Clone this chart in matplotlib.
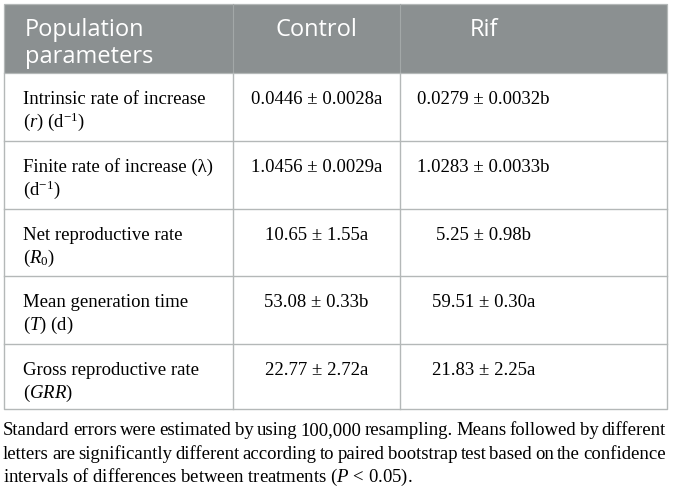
import matplotlib
matplotlib.use("Agg")
import matplotlib.pyplot as plt
from matplotlib.patches import Rectangle

plt.rcParams['mathtext.fontset'] = 'custom'
plt.rcParams['mathtext.rm'] = 'Liberation Serif'
plt.rcParams['mathtext.it'] = 'Liberation Serif:italic'

# table data
headers = ["Population\nparameters", "Control", "Rif"]
param_line1 = ["Intrinsic rate of increase", "Finite rate of increase (λ)",
               "Net reproductive rate", "Mean generation time",
               "Gross reproductive rate"]
param_line2 = ["($r$) (d$^{-1}$)", "(d$^{-1}$)", "($R_0$)", "($T$) (d)", "($GRR$)"]
decimals = [4, 4, 2, 2, 2]
control_mean = [0.0446, 1.0456, 10.65, 53.08, 22.77]
control_se = [0.0028, 0.0029, 1.55, 0.33, 2.72]
control_letter = ["a", "a", "a", "b", "a"]
rif_mean = [0.0279, 1.0283, 5.25, 59.51, 21.83]
rif_se = [0.0032, 0.0033, 0.98, 0.30, 2.25]
rif_letter = ["b", "b", "b", "a", "a"]
footnote = ["Standard errors were estimated by using 100,000 resampling. Means followed by different",
            "letters are significantly different according to paired bootstrap test based on the confidence",
            "intervals of differences between treatments ($P$ < 0.05)."]

W, H = 673, 492
fig = plt.figure(figsize=(W/100, H/100), dpi=100)
ax = fig.add_axes([0, 0, 1, 1])
ax.set_xlim(0, W)
ax.set_ylim(H, 0)
ax.axis('off')

# layout (pixels)
col_x = [4, 233, 400, 667]
row_y = [4, 73, 141, 209, 276, 344, 409]
header_bg = '#8b9091'
line_c = '#b4b8b8'
serif = 'Liberation Serif'
body_fs = 13.5

# header
ax.add_patch(Rectangle((col_x[0], row_y[0]), col_x[-1]-col_x[0], row_y[1]-row_y[0],
                       facecolor=header_bg, edgecolor=line_c, lw=0.9))
for x in col_x[1:-1]:
    ax.plot([x, x], [row_y[0], row_y[1]], color='#a3a8a8', lw=0.8)
ctrl_w = col_x[2] - col_x[1]
ax.text(25, 36, "Population", color='white', family='Open Sans', fontsize=17, va='baseline')
ax.text(25, 63, "parameters", color='white', family='Open Sans', fontsize=17, va='baseline')
ax.text(col_x[1] + ctrl_w/2, 36, headers[1], color='white', family='Open Sans',
        fontsize=17, va='baseline', ha='center')
ax.text(col_x[2] + ctrl_w/2, 36, headers[2], color='white', family='Open Sans',
        fontsize=17, va='baseline', ha='center')

# body grid
ax.plot([col_x[0], col_x[0], col_x[-1], col_x[-1]],
        [row_y[1], row_y[-1], row_y[-1], row_y[1]], color=line_c, lw=1.0)
for y in row_y[2:-1]:
    ax.plot([col_x[0], col_x[-1]], [y, y], color=line_c, lw=1.0)
for x in col_x[1:-1]:
    ax.plot([x, x], [row_y[1], row_y[-1]], color=line_c, lw=1.0)

# body text
for i in range(len(param_line1)):
    top = row_y[i+1]
    ax.text(23, top+31, param_line1[i], family=serif, fontsize=body_fs, va='baseline')
    ax.text(23, top+54, param_line2[i], family=serif, fontsize=body_fs, va='baseline')
    d = decimals[i]
    c = f"{control_mean[i]:.{d}f} ± {control_se[i]:.{d}f}{control_letter[i]}"
    r = f"{rif_mean[i]:.{d}f} ± {rif_se[i]:.{d}f}{rif_letter[i]}"
    ax.text(col_x[1] + ctrl_w/2, top+31, c, family=serif, fontsize=body_fs,
            va='baseline', ha='center')
    ax.text(col_x[2] + ctrl_w/2, top+31, r, family=serif, fontsize=body_fs,
            va='baseline', ha='center')

# footnote, first two lines justified
renderer = fig.canvas.get_renderer()


def justify(line, y, x0, x1):
    words = line.split(' ')
    widths = []
    for w in words:
        t = ax.text(0, 0, w, family=serif, fontsize=body_fs)
        widths.append(t.get_window_extent(renderer=renderer).width)
        t.remove()
    gap = (x1 - x0 - sum(widths)) / (len(words) - 1)
    x = x0
    for w, wd in zip(words, widths):
        ax.text(x, y, w, family=serif, fontsize=body_fs, va='baseline')
        x += wd + gap


fy = [435, 459, 482]
justify(footnote[0], fy[0], 3, 666)
justify(footnote[1], fy[1], 3, 666)
ax.text(3, fy[2], footnote[2], family=serif, fontsize=body_fs, va='baseline')

fig.savefig('out.png', dpi=100)
